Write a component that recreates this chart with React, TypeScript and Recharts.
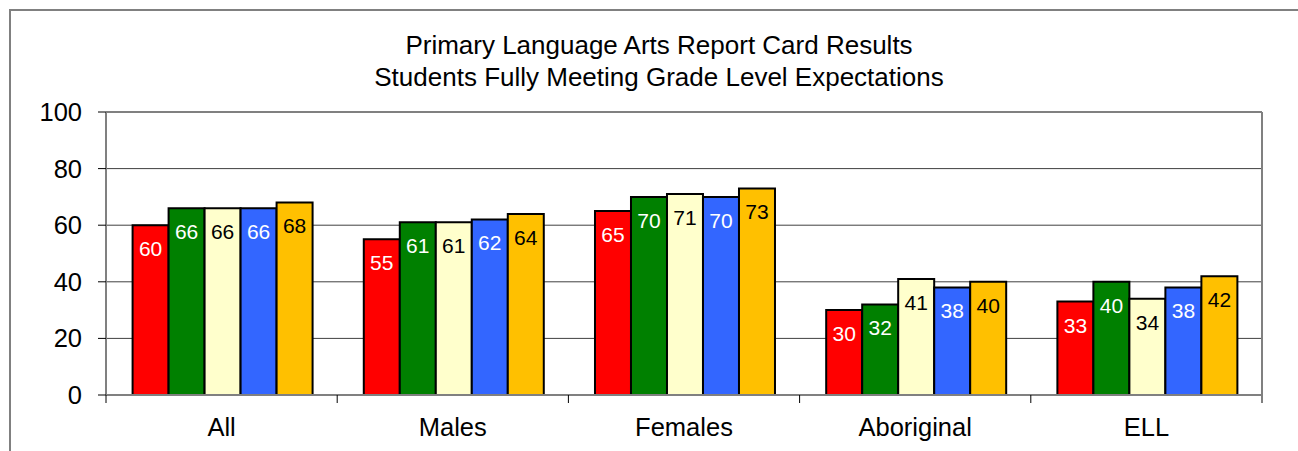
import { BarChart, Bar, XAxis, YAxis, CartesianGrid, LabelList } from 'recharts';

const categories = ['All', 'Males', 'Females', 'Aboriginal', 'ELL'];
const seriesNames = ['s1', 's2', 's3', 's4', 's5'];
const s1 = [60, 55, 65, 30, 33];
const s2 = [66, 61, 70, 32, 40];
const s3 = [66, 61, 71, 41, 34];
const s4 = [66, 62, 70, 38, 38];
const s5 = [68, 64, 73, 40, 42];
const yTicks = [0, 20, 40, 60, 80, 100];
const titleLines = ['Primary Language Arts Report Card Results', 'Students Fully Meeting Grade Level Expectations'];

const fills = ['#ff0000', '#008000', '#ffffcc', '#3366ff', '#ffc000'];
const labelColors = ['#ffffff', '#ffffff', '#000000', '#ffffff', '#000000'];

const data = categories.map((name, i) => ({
  name,
  s1: s1[i],
  s2: s2[i],
  s3: s3[i],
  s4: s4[i],
  s5: s5[i],
}));

const FONT = '"Liberation Sans", Arial, sans-serif';
const W = 1298;
const H = 451;
const PLOT_LEFT = 106;
const PLOT_RIGHT = 1262;
const PLOT_TOP = 112;
const PLOT_BOTTOM = 395;
const BAND = (PLOT_RIGHT - PLOT_LEFT) / categories.length;

function CategoryTick(props: any) {
  const { x, y, payload, index } = props;
  const left = x - BAND / 2;
  return (
    <g>
      <line x1={left} x2={left} y1={y} y2={y + 8} stroke="#000" strokeWidth={1} />
      {index === categories.length - 1 && (
        <line x1={left + BAND} x2={left + BAND} y1={y} y2={y + 8} stroke="#808080" strokeWidth={2} />
      )}
      <text x={x} y={y + 41} textAnchor="middle" fontSize={25.5} fontFamily={FONT} fill="#000">
        {payload.value}
      </text>
    </g>
  );
}

export default function App() {
  return (
    <div style={{ position: 'fixed', left: 0, top: 0, width: W, height: H, background: '#fff', overflow: 'hidden' }}>
      <div
        style={{
          position: 'absolute',
          left: 9,
          top: 9,
          width: W,
          height: H,
          borderLeft: '2px solid #808080',
          borderTop: '2px solid #808080',
        }}
      />
      <div
        style={{
          position: 'absolute',
          left: 0,
          width: 1318,
          top: 30,
          textAlign: 'center',
          fontFamily: FONT,
          fontSize: 26,
          lineHeight: '31.5px',
          color: '#000',
        }}
      >
        {titleLines.map((t) => (
          <div key={t}>{t}</div>
        ))}
      </div>
      <div style={{ position: 'absolute', left: 0, top: 0 }}>
        <BarChart
          width={W}
          height={H}
          data={data}
          margin={{ top: PLOT_TOP, right: W - PLOT_RIGHT, bottom: 0, left: PLOT_LEFT - 60 }}
          barCategoryGap="11.5%"
          barGap={0}
        >
          <CartesianGrid vertical={false} stroke="#404040" strokeWidth={1} />
          <CartesianGrid horizontal={false} verticalPoints={[PLOT_RIGHT]} stroke="#808080" strokeWidth={2} />
          <CartesianGrid vertical={false} horizontalPoints={[PLOT_TOP]} stroke="#808080" strokeWidth={2} />
          <XAxis
            dataKey="name"
            height={H - PLOT_BOTTOM}
            tickSize={0}
            tickMargin={0}
            tickLine={false}
            axisLine={{ stroke: '#808080', strokeWidth: 2 }}
            tick={<CategoryTick />}
            interval={0}
          />
          <YAxis
            width={60}
            domain={[0, 100]}
            ticks={yTicks}
            tickSize={8}
            tickMargin={16}
            axisLine={{ stroke: '#808080', strokeWidth: 2 }}
            tickLine={{ stroke: '#000', strokeWidth: 1 }}
            tick={{ fontSize: 25.5, fontFamily: FONT, fill: '#000' }}
          />
          {seriesNames.map((key, i) => (
            <Bar key={key} dataKey={key} fill={fills[i]} stroke="#000" strokeWidth={2} isAnimationActive={false}>
              <LabelList
                dataKey={key}
                position="insideTop"
                offset={16}
                fill={labelColors[i]}
                fontSize={21}
                fontFamily={FONT}
              />
            </Bar>
          ))}
        </BarChart>
      </div>
    </div>
  );
}
